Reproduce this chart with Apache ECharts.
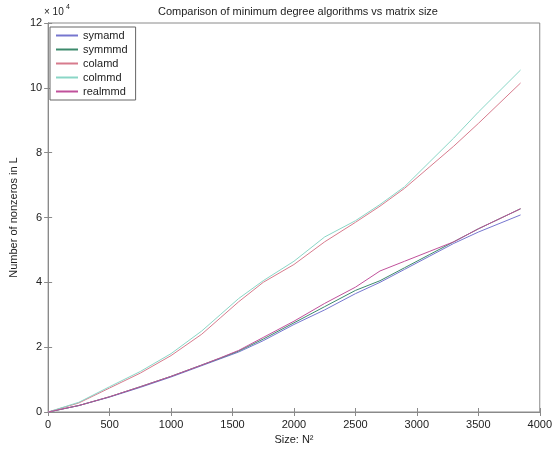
<!DOCTYPE html>
<html><head><meta charset="utf-8">
<script src="https://cdn.jsdelivr.net/npm/echarts@6/dist/echarts.min.js"></script>
<style>html,body{margin:0;padding:0;background:#fff}#c{width:555px;height:451px}</style>
</head><body><div id="c"></div>
<script>
// x values: matrix size N^2
const sizes = [0, 250, 500, 750, 1000, 1250, 1400, 1550, 1750, 2000, 2250, 2500, 2700, 2900, 3100, 3300, 3500, 3844];
// nonzeros in L, in units of 10^4
const symamd  = [0, 0.2, 0.46, 0.76, 1.08, 1.43, 1.64, 1.85, 2.2, 2.7, 3.15, 3.65, 4.0, 4.4, 4.8, 5.2, 5.55, 6.08];
const symmmd  = [0, 0.2, 0.47, 0.78, 1.1, 1.45, 1.66, 1.88, 2.25, 2.75, 3.25, 3.75, 4.05, 4.45, 4.85, 5.25, 5.65, 6.27];
const colamd  = [0, 0.28, 0.74, 1.2, 1.74, 2.4, 2.9, 3.4, 4.0, 4.55, 5.25, 5.85, 6.35, 6.9, 7.55, 8.2, 8.9, 10.15];
const colmmd  = [0, 0.3, 0.78, 1.25, 1.8, 2.5, 3.0, 3.5, 4.05, 4.65, 5.4, 5.9, 6.4, 6.95, 7.7, 8.45, 9.25, 10.55];
const realmmd = [0, 0.2, 0.47, 0.78, 1.1, 1.45, 1.67, 1.9, 2.3, 2.8, 3.35, 3.85, 4.35, 4.65, 4.95, 5.25, 5.65, 6.27];
const seriesNames = ['symamd', 'symmmd', 'colamd', 'colmmd', 'realmmd'];
const seriesData = [symamd, symmmd, colamd, colmmd, realmmd];
const colors = ['#7676cf', '#3c8a6c', '#d77b8d', '#8ad6c6', '#c0519b'];

const chart = echarts.init(document.getElementById('c'), null, {renderer: 'canvas'});
const font = 'Liberation Sans, Arial, sans-serif';
const axisCol = '#8a8a8a';
const lbl = {color: '#222', fontSize: 11, fontFamily: font};
chart.setOption({
  backgroundColor: '#fff',
  animation: false,
  title: {
    text: 'Comparison of minimum degree algorithms vs matrix size',
    left: 293, top: 1, textAlign: 'center',
    textStyle: {fontSize: 11, fontWeight: 'normal', color: '#222', fontFamily: font}
  },
  grid: {left: 45, right: 14, top: 23, bottom: 39, show: true, borderColor: axisCol, borderWidth: 1, backgroundColor: '#fff'},
  legend: {
    orient: 'vertical', left: 50, top: 27,
    data: seriesNames.map((n, i) => ({name: n, itemStyle: {color: colors[i], borderWidth: 0}})),
    icon: 'rect', itemWidth: 22, itemHeight: 2, itemGap: 3,
    itemStyle: {borderWidth: 0},
    backgroundColor: '#fff', borderColor: '#666', borderWidth: 1, padding: [3, 8, 3, 6],
    textStyle: {fontSize: 11, color: '#222', fontFamily: font, lineHeight: 10}
  },
  xAxis: [{
    type: 'value', min: 0, max: 4000, interval: 500,
    name: 'Size: N\u00b2', nameLocation: 'middle', nameGap: 21,
    nameTextStyle: {fontSize: 11, color: '#222', fontFamily: font},
    axisLine: {show: true, lineStyle: {color: axisCol}},
    axisTick: {show: true, inside: true, length: 4, lineStyle: {color: axisCol}},
    axisLabel: Object.assign({margin: 7, formatter: v => String(v)}, lbl),
    splitLine: {show: false}
  }, {
    type: 'value', min: 0, max: 4000, interval: 500, position: 'top',
    axisLine: {show: true, lineStyle: {color: axisCol}},
    axisTick: {show: true, inside: true, length: 4, lineStyle: {color: axisCol}},
    axisLabel: {show: false}, splitLine: {show: false}
  }],
  yAxis: [{
    type: 'value', min: 0, max: 12, interval: 2,
    name: 'Number of nonzeros in L', nameLocation: 'middle', nameGap: 20,
    nameTextStyle: {fontSize: 11, color: '#222', fontFamily: font},
    axisLine: {show: true, lineStyle: {color: axisCol}},
    axisTick: {show: true, inside: true, length: 4, lineStyle: {color: axisCol}},
    axisLabel: Object.assign({margin: 6}, lbl),
    splitLine: {show: false}
  }, {
    type: 'value', min: 0, max: 12, interval: 2, position: 'right',
    axisLine: {show: true, lineStyle: {color: axisCol}},
    axisTick: {show: true, inside: true, length: 4, lineStyle: {color: axisCol}},
    axisLabel: {show: false}, splitLine: {show: false}
  }],
  graphic: [{
    type: 'text', left: 44, top: 7,
    style: {text: '\u00d7 10', fontSize: 10, fill: '#222', fontFamily: font}
  }, {
    type: 'text', left: 66, top: 4,
    style: {text: '4', fontSize: 7, fill: '#222', fontFamily: font}
  }],
  series: seriesNames.map((n, i) => ({
    name: n, type: 'line', showSymbol: false, symbol: 'none',
    data: sizes.map((x, j) => [x, seriesData[i][j]]),
    lineStyle: {color: colors[i], width: 1},
    itemStyle: {color: colors[i]},
    z: 2 + i
  }))
});
</script></body></html>
